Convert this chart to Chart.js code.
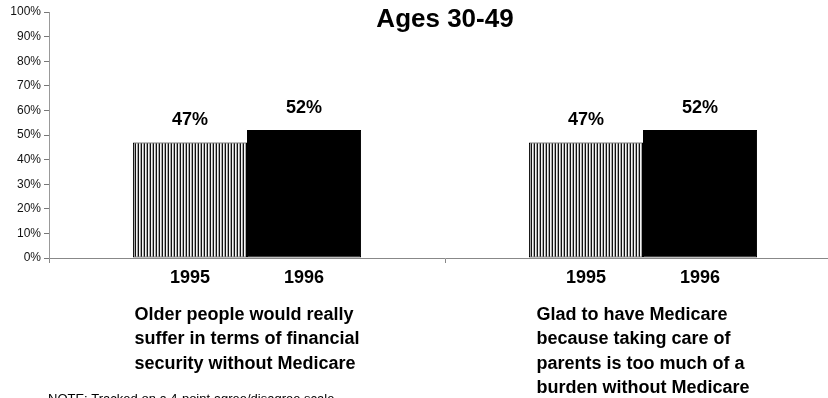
<!DOCTYPE html>
<html>
<head>
<meta charset="utf-8">
<script src="https://cdn.jsdelivr.net/npm/chart.js@4.4.0/dist/chart.umd.min.js"></script>
<style>
  html, body { margin: 0; padding: 0; background: #fff; overflow: hidden; }
  #wrap { position: relative; width: 841px; height: 398px; }
</style>
</head>
<body>
<div id="wrap"><canvas id="agesChart"></canvas></div>
<script>
// Ages 30-49: share agreeing, 1995 vs 1996
const categories = [
  ['Older people would really', 'suffer in terms of financial', 'security without Medicare'],
  ['Glad to have Medicare', 'because taking care of', 'parents is too much of a', 'burden without Medicare']
];
const years = ['1995', '1996'];
const values1995 = [47, 47];
const values1996 = [52, 52];
const yTickStep = 10;
const yMax = 100;
const chartTitle = 'Ages 30-49';
const note = 'NOTE: Tracked on a 4-point agree/disagree scale';

const FONT = '"Liberation Sans", Arial, sans-serif';

// vertical-line hatch for the 1995 bars
function makeHatch() {
  const c = document.createElement('canvas');
  c.width = 3;
  c.height = 4;
  const g = c.getContext('2d');
  g.fillStyle = '#f4f4f4';
  g.fillRect(0, 0, 3, 4);
  g.fillStyle = '#111';
  g.fillRect(0, 0, 1, 4);
  g.fillStyle = '#a8a8a8';
  g.fillRect(2, 0, 1, 4);
  return g.createPattern(c, 'repeat');
}

const ctx = document.getElementById('agesChart').getContext('2d');

// title, value labels, year labels, category text and note
const labelsPlugin = {
  id: 'labels',
  afterDatasetsDraw(chart) {
    const c = chart.ctx;
    const area = chart.chartArea;
    const xScale = chart.scales.x;
    c.save();
    c.fillStyle = '#000';
    c.textAlign = 'center';
    c.textBaseline = 'middle';

    c.font = 'bold 26px ' + FONT;
    c.fillText(chartTitle, (area.left + area.right) / 2, 20);

    c.font = 'bold 18px ' + FONT;
    chart.data.datasets.forEach((ds, i) => {
      chart.getDatasetMeta(i).data.forEach((bar, j) => {
        c.fillText(ds.data[j] + '%', bar.x, bar.y - 22);
        c.fillText(ds.label, bar.x, area.bottom + 20);
      });
    });

    c.textAlign = 'left';
    categories.forEach((lines, j) => {
      const w = Math.max(...lines.map(l => c.measureText(l).width));
      const x0 = xScale.getPixelForValue(j) - w / 2;
      lines.forEach((l, k) => c.fillText(l, x0, area.bottom + 57 + k * 24.5));
    });

    c.font = '13px ' + FONT;
    c.textBaseline = 'alphabetic';
    c.fillText(note, 48, 403);
    c.restore();
  }
};

new Chart(ctx, {
  type: 'bar',
  data: {
    labels: categories.map(l => l.join(' ')),
    datasets: [
      {
        label: years[0],
        data: values1995,
        backgroundColor: makeHatch(),
        borderColor: '#000',
        borderWidth: 1,
        borderSkipped: false
      },
      {
        label: years[1],
        data: values1996,
        backgroundColor: '#000',
        borderColor: '#000',
        borderWidth: 1,
        borderSkipped: false
      }
    ]
  },
  options: {
    responsive: true,
    maintainAspectRatio: false,
    animation: false,
    categoryPercentage: 0.576,
    barPercentage: 1.0,
    layout: { padding: { top: 12, right: 0, bottom: 0, left: 0 } },
    plugins: {
      legend: { display: false },
      title: { display: false },
      tooltip: { enabled: false }
    },
    scales: {
      x: {
        offset: true,
        afterFit(scale) { scale.height = 140; },
        ticks: { display: false },
        grid: {
          display: true,
          offset: true,
          drawOnChartArea: false,
          drawTicks: true,
          tickLength: 5,
          color: '#888'
        },
        border: { color: '#888' }
      },
      y: {
        min: 0,
        max: yMax,
        afterFit(scale) { scale.width = 49; },
        ticks: {
          stepSize: yTickStep,
          padding: 3,
          color: '#111',
          font: { family: FONT, size: 12 },
          callback: v => v + '%'
        },
        grid: {
          drawOnChartArea: false,
          drawTicks: true,
          tickLength: 5,
          color: '#777'
        },
        border: { color: '#999' }
      }
    }
  },
  plugins: [labelsPlugin]
});
</script>
</body>
</html>
